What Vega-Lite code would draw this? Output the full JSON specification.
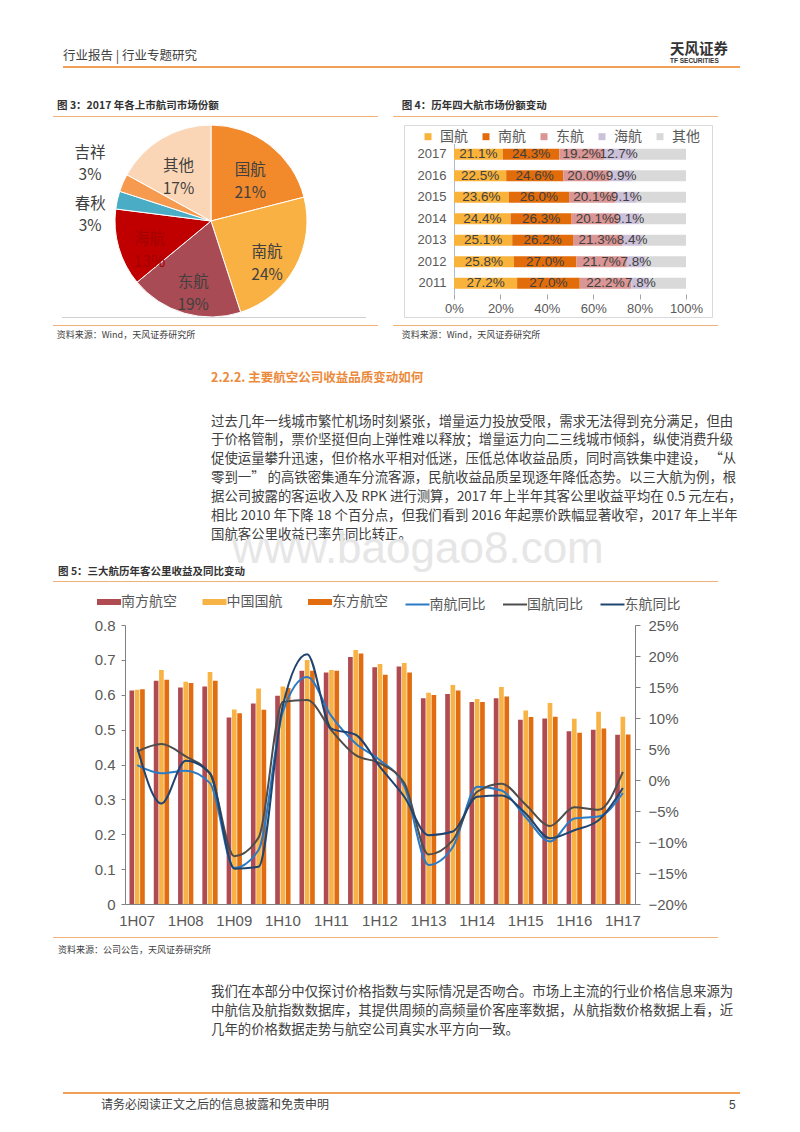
{
"$schema":"https://vega.github.io/schema/vega-lite/v6.json",
"background":"white",
"padding":0,
"autosize":{"type":"pad"},
"bounds":"flush",
"spacing":0,
"columns":3,
"align":"none",
"resolve":{"scale":{"color":"independent"},"legend":{"color":"independent"}},
"config":{"view":{"stroke":null},"font":"Noto Sans CJK SC","concat":{"spacing":0},"title":{"font":"Noto Sans CJK SC","anchor":"start","frame":"group"}},
"datasets":{
"pie":[
{"name":"国航","share":21,"ord":1,"label":"国航\n21%"},
{"name":"南航","share":24,"ord":2,"label":"南航\n24%"},
{"name":"东航","share":19,"ord":3,"label":"东航\n19%"},
{"name":"海航","share":13,"ord":4,"label":"海航\n13%"},
{"name":"春秋","share":3,"ord":5,"label":"春秋\n3%"},
{"name":"吉祥","share":3,"ord":6,"label":"吉祥\n3%"},
{"name":"其他","share":17,"ord":7,"label":"其他\n17%"}
],
"share4":[
{"year":"2017","airline":"国航","share":0.211,"ord":1},{"year":"2017","airline":"南航","share":0.243,"ord":2},{"year":"2017","airline":"东航","share":0.192,"ord":3},{"year":"2017","airline":"海航","share":0.127,"ord":4},{"year":"2017","airline":"其他","share":0.227,"ord":5},
{"year":"2016","airline":"国航","share":0.225,"ord":1},{"year":"2016","airline":"南航","share":0.246,"ord":2},{"year":"2016","airline":"东航","share":0.200,"ord":3},{"year":"2016","airline":"海航","share":0.099,"ord":4},{"year":"2016","airline":"其他","share":0.230,"ord":5},
{"year":"2015","airline":"国航","share":0.236,"ord":1},{"year":"2015","airline":"南航","share":0.260,"ord":2},{"year":"2015","airline":"东航","share":0.201,"ord":3},{"year":"2015","airline":"海航","share":0.091,"ord":4},{"year":"2015","airline":"其他","share":0.212,"ord":5},
{"year":"2014","airline":"国航","share":0.244,"ord":1},{"year":"2014","airline":"南航","share":0.263,"ord":2},{"year":"2014","airline":"东航","share":0.201,"ord":3},{"year":"2014","airline":"海航","share":0.091,"ord":4},{"year":"2014","airline":"其他","share":0.201,"ord":5},
{"year":"2013","airline":"国航","share":0.251,"ord":1},{"year":"2013","airline":"南航","share":0.262,"ord":2},{"year":"2013","airline":"东航","share":0.213,"ord":3},{"year":"2013","airline":"海航","share":0.084,"ord":4},{"year":"2013","airline":"其他","share":0.190,"ord":5},
{"year":"2012","airline":"国航","share":0.258,"ord":1},{"year":"2012","airline":"南航","share":0.270,"ord":2},{"year":"2012","airline":"东航","share":0.217,"ord":3},{"year":"2012","airline":"海航","share":0.078,"ord":4},{"year":"2012","airline":"其他","share":0.177,"ord":5},
{"year":"2011","airline":"国航","share":0.272,"ord":1},{"year":"2011","airline":"南航","share":0.270,"ord":2},{"year":"2011","airline":"东航","share":0.222,"ord":3},{"year":"2011","airline":"海航","share":0.078,"ord":4},{"year":"2011","airline":"其他","share":0.158,"ord":5}
],
"bars":[
{"period":"1H07","series":"南方航空","value":0.612},{"period":"1H07","series":"中国国航","value":0.614},{"period":"1H07","series":"东方航空","value":0.616},
{"period":"2H07","series":"南方航空","value":0.640},{"period":"2H07","series":"中国国航","value":0.671},{"period":"2H07","series":"东方航空","value":0.643},
{"period":"1H08","series":"南方航空","value":0.621},{"period":"1H08","series":"中国国航","value":0.637},{"period":"1H08","series":"东方航空","value":0.634},
{"period":"2H08","series":"南方航空","value":0.624},{"period":"2H08","series":"中国国航","value":0.665},{"period":"2H08","series":"东方航空","value":0.640},
{"period":"1H09","series":"南方航空","value":0.535},{"period":"1H09","series":"中国国航","value":0.558},{"period":"1H09","series":"东方航空","value":0.547},
{"period":"2H09","series":"南方航空","value":0.575},{"period":"2H09","series":"中国国航","value":0.618},{"period":"2H09","series":"东方航空","value":0.557},
{"period":"1H10","series":"南方航空","value":0.597},{"period":"1H10","series":"中国国航","value":0.624},{"period":"1H10","series":"东方航空","value":0.619},
{"period":"2H10","series":"南方航空","value":0.669},{"period":"2H10","series":"中国国航","value":0.700},{"period":"2H10","series":"东方航空","value":0.669},
{"period":"1H11","series":"南方航空","value":0.664},{"period":"1H11","series":"中国国航","value":0.671},{"period":"1H11","series":"东方航空","value":0.669},
{"period":"2H11","series":"南方航空","value":0.708},{"period":"2H11","series":"中国国航","value":0.728},{"period":"2H11","series":"东方航空","value":0.718},
{"period":"1H12","series":"南方航空","value":0.679},{"period":"1H12","series":"中国国航","value":0.688},{"period":"1H12","series":"东方航空","value":0.657},
{"period":"2H12","series":"南方航空","value":0.681},{"period":"2H12","series":"中国国航","value":0.691},{"period":"2H12","series":"东方航空","value":0.664},
{"period":"1H13","series":"南方航空","value":0.590},{"period":"1H13","series":"中国国航","value":0.606},{"period":"1H13","series":"东方航空","value":0.599},
{"period":"2H13","series":"南方航空","value":0.602},{"period":"2H13","series":"中国国航","value":0.628},{"period":"2H13","series":"东方航空","value":0.612},
{"period":"1H14","series":"南方航空","value":0.579},{"period":"1H14","series":"中国国航","value":0.588},{"period":"1H14","series":"东方航空","value":0.579},
{"period":"2H14","series":"南方航空","value":0.590},{"period":"2H14","series":"中国国航","value":0.622},{"period":"2H14","series":"东方航空","value":0.595},
{"period":"1H15","series":"南方航空","value":0.528},{"period":"1H15","series":"中国国航","value":0.555},{"period":"1H15","series":"东方航空","value":0.536},
{"period":"2H15","series":"南方航空","value":0.532},{"period":"2H15","series":"中国国航","value":0.576},{"period":"2H15","series":"东方航空","value":0.537},
{"period":"1H16","series":"南方航空","value":0.495},{"period":"1H16","series":"中国国航","value":0.531},{"period":"1H16","series":"东方航空","value":0.491},
{"period":"2H16","series":"南方航空","value":0.500},{"period":"2H16","series":"中国国航","value":0.551},{"period":"2H16","series":"东方航空","value":0.503},
{"period":"1H17","series":"南方航空","value":0.485},{"period":"1H17","series":"中国国航","value":0.537},{"period":"1H17","series":"东方航空","value":0.486}
],
"lines":[
{"period":"1H07","series":"南航同比","yoy":0.024},{"period":"2H07","series":"南航同比","yoy":0.011},{"period":"1H08","series":"南航同比","yoy":0.015},{"period":"2H08","series":"南航同比","yoy":-0.005},{"period":"1H09","series":"南航同比","yoy":-0.142},{"period":"2H09","series":"南航同比","yoy":-0.113},{"period":"1H10","series":"南航同比","yoy":0.110},{"period":"2H10","series":"南航同比","yoy":0.166},{"period":"1H11","series":"南航同比","yoy":0.103},{"period":"2H11","series":"南航同比","yoy":0.059},{"period":"1H12","series":"南航同比","yoy":0.032},{"period":"2H12","series":"南航同比","yoy":-0.010},{"period":"1H13","series":"南航同比","yoy":-0.137},{"period":"2H13","series":"南航同比","yoy":-0.108},{"period":"1H14","series":"南航同比","yoy":-0.011},{"period":"2H14","series":"南航同比","yoy":-0.017},{"period":"1H15","series":"南航同比","yoy":-0.060},{"period":"2H15","series":"南航同比","yoy":-0.099},{"period":"1H16","series":"南航同比","yoy":-0.062},{"period":"2H16","series":"南航同比","yoy":-0.059},{"period":"1H17","series":"南航同比","yoy":-0.021},
{"period":"1H07","series":"国航同比","yoy":0.046},{"period":"2H07","series":"国航同比","yoy":0.058},{"period":"1H08","series":"国航同比","yoy":0.038},{"period":"2H08","series":"国航同比","yoy":0.010},{"period":"1H09","series":"国航同比","yoy":-0.123},{"period":"2H09","series":"国航同比","yoy":-0.093},{"period":"1H10","series":"国航同比","yoy":0.126},{"period":"2H10","series":"国航同比","yoy":0.129},{"period":"1H11","series":"国航同比","yoy":0.080},{"period":"2H11","series":"国航同比","yoy":0.040},{"period":"1H12","series":"国航同比","yoy":0.027},{"period":"2H12","series":"国航同比","yoy":-0.005},{"period":"1H13","series":"国航同比","yoy":-0.120},{"period":"2H13","series":"国航同比","yoy":-0.097},{"period":"1H14","series":"国航同比","yoy":-0.019},{"period":"2H14","series":"国航同比","yoy":-0.006},{"period":"1H15","series":"国航同比","yoy":-0.040},{"period":"2H15","series":"国航同比","yoy":-0.074},{"period":"1H16","series":"国航同比","yoy":-0.044},{"period":"2H16","series":"国航同比","yoy":-0.048},{"period":"1H17","series":"国航同比","yoy":0.013},
{"period":"1H07","series":"东航同比","yoy":0.053},{"period":"2H07","series":"东航同比","yoy":-0.038},{"period":"1H08","series":"东航同比","yoy":0.031},{"period":"2H08","series":"东航同比","yoy":0.011},{"period":"1H09","series":"东航同比","yoy":-0.143},{"period":"2H09","series":"东航同比","yoy":-0.140},{"period":"1H10","series":"东航同比","yoy":0.120},{"period":"2H10","series":"东航同比","yoy":0.203},{"period":"1H11","series":"东航同比","yoy":0.083},{"period":"2H11","series":"东航同比","yoy":0.073},{"period":"1H12","series":"东航同比","yoy":0.021},{"period":"2H12","series":"东航同比","yoy":-0.027},{"period":"1H13","series":"东航同比","yoy":-0.089},{"period":"2H13","series":"东航同比","yoy":-0.083},{"period":"1H14","series":"东航同比","yoy":-0.027},{"period":"2H14","series":"东航同比","yoy":-0.025},{"period":"1H15","series":"东航同比","yoy":-0.054},{"period":"2H15","series":"东航同比","yoy":-0.094},{"period":"1H16","series":"东航同比","yoy":-0.081},{"period":"2H16","series":"东航同比","yoy":-0.065},{"period":"1H17","series":"东航同比","yoy":-0.013}
]
},
"concat":[
{"width":115,"height":66,"data":{"values":[]},"mark":"point","title":{"text":"行业报告 | 行业专题研究","fontSize":12.5,"fontWeight":"normal","color":"#404040","dx":63,"offset":-62.4}},
{"width":1,"height":66,"data":{"values":[]},"mark":"point"},
{"width":1,"height":66,"data":{"values":[]},"mark":"point","title":{"text":"天风证券","fontSize":14.5,"fontWeight":"bold","color":"#333333","dx":266,"offset":-65.1,"subtitle":"TF SECURITIES","subtitleFont":"Liberation Sans","subtitleFontSize":6.5,"subtitleFontWeight":"bold","subtitleColor":"#333333","subtitlePadding":0}},

{"width":115,"height":2,"data":{"values":[{"seg":"header"}]},"mark":{"type":"bar","color":"#F0A057"},"encoding":{"x":{"field":"seg","type":"nominal","scale":{"range":[63,740],"paddingInner":0,"paddingOuter":0},"axis":null}}},
{"width":1,"height":2,"data":{"values":[]},"mark":"point"},
{"width":1,"height":2,"data":{"values":[]},"mark":"point"},

{"width":115,"height":48,"data":{"values":[]},"mark":"point","title":{"text":"图 3：2017 年各上市航司市场份额","fontSize":10.5,"fontWeight":"bold","color":"#333333","dx":57,"offset":-43.9}},
{"width":1,"height":48,"data":{"values":[]},"mark":"point"},
{"width":1,"height":48,"data":{"values":[]},"mark":"point","title":{"text":"图 4：历年四大航市场份额变动","fontSize":10.5,"fontWeight":"bold","color":"#333333","dx":-2.3,"offset":-43.9}},

{"width":115,"height":1,"data":{"values":[{"seg":"fig3"},{"seg":"fig4"}]},"mark":{"type":"bar","color":"#F0B27A"},"encoding":{"x":{"field":"seg","type":"nominal","scale":{"range":[53,718],"paddingInner":0.0441,"paddingOuter":0},"axis":null}}},
{"width":1,"height":1,"data":{"values":[]},"mark":"point"},
{"width":1,"height":1,"data":{"values":[]},"mark":"point"},

{"width":115,"height":8,"data":{"values":[]},"mark":"point"},
{"width":289,"height":8,"data":{"values":[]},"mark":"point"},
{"width":1,"height":8,"data":{"values":[]},"mark":"point"},

{"width":115,"height":192,"data":{"values":[]},"mark":"point"},
{"width":192,"height":192,"data":{"name":"pie"},
"layer":[
{"mark":{"type":"arc","outerRadius":96,"stroke":"#ffffff","strokeWidth":1},
"encoding":{"theta":{"field":"share","type":"quantitative","stack":true},"order":{"field":"ord","type":"quantitative"},"color":{"field":"name","type":"nominal","scale":{"domain":["国航","南航","东航","海航","春秋","吉祥","其他"],"range":["#F28A2C","#F8B142","#A94B54","#C00000","#4BACC6","#F59A4F","#FBD6B6"]},"legend":null}}},
{"mark":{"type":"text","radius":64,"fontSize":15.5,"lineHeight":23,"lineBreak":"\n","baseline":"middle","align":"center"},
"encoding":{"theta":{"field":"share","type":"quantitative","stack":true},"order":{"field":"ord","type":"quantitative"},"detail":{"field":"name"},"text":{"field":"label"},"color":{"condition":{"test":"datum.name == '海航'","value":"#A30000"},"value":"#404040"},"opacity":{"condition":{"test":"datum.name == '吉祥' || datum.name == '春秋'","value":0},"value":1}}},
{"mark":{"type":"text","radius":139,"thetaOffset":0.106,"fontSize":15.5,"lineHeight":22,"lineBreak":"\n","baseline":"middle","align":"center","color":"#404040"},
"encoding":{"theta":{"field":"share","type":"quantitative","stack":true},"order":{"field":"ord","type":"quantitative"},"detail":{"field":"name"},"text":{"field":"label"},"opacity":{"condition":{"test":"datum.name == '吉祥'","value":1},"value":0}}},
{"mark":{"type":"text","radius":122,"thetaOffset":-0.08,"fontSize":15.5,"lineHeight":22,"lineBreak":"\n","baseline":"middle","align":"center","color":"#404040"},
"encoding":{"theta":{"field":"share","type":"quantitative","stack":true},"order":{"field":"ord","type":"quantitative"},"detail":{"field":"name"},"text":{"field":"label"},"opacity":{"condition":{"test":"datum.name == '春秋'","value":1},"value":0}}}
]},
{"width":308,"height":192,"view":{"stroke":"#D9D9D9"},"data":{"name":"share4"},
"transform":[{"stack":"share","groupby":["year"],"sort":[{"field":"ord","order":"ascending"}],"as":["s0","s1"]},{"calculate":"(datum.s0+datum.s1)/2","as":"mid"}],
"encoding":{"y":{"field":"year","type":"ordinal","sort":"descending","scale":{"range":[18.5,169],"paddingInner":0.49,"paddingOuter":0.245},"axis":{"title":null,"orient":"left","offset":-50,"domain":true,"domainColor":"#A9BCD3","ticks":false,"labelFont":"Liberation Sans","labelFontSize":13,"labelColor":"#595959","labelPadding":8}}},
"layer":[
{"mark":{"type":"bar"},
"encoding":{"x":{"field":"s0","type":"quantitative","scale":{"domain":[0,1],"range":[50,282]},"axis":{"title":null,"orient":"bottom","offset":-23,"values":[0,0.2,0.4,0.6,0.8,1],"format":".0%","domain":false,"ticks":true,"tickSize":5,"tickColor":"#A6A6A6","grid":false,"labelFont":"Liberation Sans","labelFontSize":13,"labelColor":"#595959","labelPadding":3,"labelFlush":false}},"x2":{"field":"s1"},
"color":{"field":"airline","type":"nominal","scale":{"domain":["国航","南航","东航","海航","其他"],"range":["#F9B23A","#E36C0A","#D99694","#CCC1DA","#D9D9D9"]},"legend":{"orient":"none","legendX":17,"legendY":4.7,"direction":"horizontal","title":null,"symbolType":"square","symbolSize":49,"symbolStrokeWidth":0,"labelFont":"Noto Sans CJK SC","labelFontSize":14,"labelColor":"#595959","labelOffset":5,"columnPadding":11,"padding":0}}}},
{"transform":[{"filter":"datum.airline != '其他'"}],
"mark":{"type":"text","font":"Liberation Sans","fontSize":13.5,"color":"#404040","baseline":"middle","align":"center"},
"encoding":{"x":{"field":"mid","type":"quantitative"},"text":{"field":"share","type":"quantitative","format":".1%"}}}
]},

{"width":115,"height":1,"data":{"values":[{"seg":"frame"}]},"mark":{"type":"bar","color":"#D0D0D0"},"encoding":{"x":{"field":"seg","type":"nominal","scale":{"range":[62,366],"paddingInner":0,"paddingOuter":0},"axis":null}}},
{"width":1,"height":1,"data":{"values":[]},"mark":"point"},
{"width":1,"height":1,"data":{"values":[]},"mark":"point"},

{"width":115,"height":7,"data":{"values":[]},"mark":"point"},
{"width":1,"height":7,"data":{"values":[]},"mark":"point"},
{"width":1,"height":7,"data":{"values":[]},"mark":"point"},

{"width":115,"height":1,"data":{"values":[{"seg":"fig3"},{"seg":"fig4"}]},"mark":{"type":"bar","color":"#F0B27A"},"encoding":{"x":{"field":"seg","type":"nominal","scale":{"range":[53,718],"paddingInner":0.0441,"paddingOuter":0},"axis":null}}},
{"width":1,"height":1,"data":{"values":[]},"mark":"point"},
{"width":1,"height":1,"data":{"values":[]},"mark":"point"},

{"width":115,"height":20,"data":{"values":[]},"mark":"point","title":{"text":"资料来源：Wind，天风证券研究所","fontSize":9,"fontWeight":"normal","color":"#404040","dx":56.7,"offset":-14.3}},
{"width":1,"height":20,"data":{"values":[]},"mark":"point"},
{"width":1,"height":20,"data":{"values":[]},"mark":"point","title":{"text":"资料来源：Wind，天风证券研究所","fontSize":9,"fontWeight":"normal","color":"#404040","dx":-2.3,"offset":-14.3}},

{"width":115,"height":214,"data":{"values":[]},"mark":"point","title":{"text":"2.2.2. 主要航空公司收益品质变动如何","fontSize":12.5,"fontWeight":"bold","color":"#EC8A3C","dx":211,"offset":-195.3,
"subtitle":["过去几年一线城市繁忙机场时刻紧张，增量运力投放受限，需求无法得到充分满足，但由","于价格管制，票价坚挺但向上弹性难以释放；增量运力向二三线城市倾斜，纵使消费升级","促使运量攀升迅速，但价格水平相对低迷，压低总体收益品质，同时高铁集中建设， “从","零到一” 的高铁密集通车分流客源，民航收益品质呈现逐年降低态势。以三大航为例，根","据公司披露的客运收入及 RPK 进行测算，2017 年上半年其客公里收益平均在 0.5 元左右，","相比 2010 年下降 18 个百分点，但我们看到 2016 年起票价跌幅显著收窄，2017 年上半年","国航客公里收益已率先同比转正。"],
"subtitleFont":"Noto Sans CJK SC","subtitleFontSize":13.4,"subtitleLineHeight":18.9,"subtitleColor":"#404040","subtitlePadding":30.4}},
{"width":1,"height":214,"data":{"values":[]},"mark":"point"},
{"width":1,"height":214,"data":{"values":[]},"mark":"point"},

{"width":115,"height":21,"data":{"values":[]},"mark":"point","title":{"text":"图 5：三大航历年客公里收益及同比变动","fontSize":10.5,"fontWeight":"bold","color":"#333333","dx":58,"offset":-17.9}},
{"width":1,"height":21,"data":{"values":[]},"mark":"point"},
{"width":1,"height":21,"data":{"values":[]},"mark":"point"},

{"width":115,"height":1,"data":{"values":[{"seg":"fig5"}]},"mark":{"type":"bar","color":"#F0B27A"},"encoding":{"x":{"field":"seg","type":"nominal","scale":{"range":[53,718],"paddingInner":0,"paddingOuter":0},"axis":null}}},
{"width":1,"height":1,"data":{"values":[]},"mark":"point"},
{"width":1,"height":1,"data":{"values":[]},"mark":"point"},

{"width":115,"height":43,"data":{"values":[]},"mark":"point","title":{"text":"www.baogao8.com","font":"Liberation Sans","fontSize":44,"fontWeight":"normal","color":"#E6E6E6","dx":232,"offset":9.6}},
{"width":1,"height":43,"data":{"values":[]},"mark":"point"},
{"width":1,"height":43,"data":{"values":[]},"mark":"point"},

{"width":115,"height":279,
"encoding":{
"x":{"field":"period","type":"nominal","scale":{"domain":["1H07","2H07","1H08","2H08","1H09","2H09","1H10","2H10","1H11","2H11","1H12","2H12","1H13","2H13","1H14","2H14","1H15","2H15","1H16","2H16","1H17"],"range":[125,635],"paddingInner":0.37,"paddingOuter":0.185},"axis":{"title":null,"values":["1H07","1H08","1H09","1H10","1H11","1H12","1H13","1H14","1H15","1H16","1H17"],"labelAngle":0,"domain":true,"domainColor":"#808080","ticks":false,"tickSize":0,"labelFont":"Liberation Sans","labelFontSize":15,"labelColor":"#595959","labelPadding":9.5,"labelOverlap":false}},
"color":{"field":"series","type":"nominal","scale":{"domain":["南方航空","中国国航","东方航空","南航同比","国航同比","东航同比"],"range":["#B04B51","#F8B347","#E26D10","#2B7BC4","#4D4D4D","#1F4470"]},
"legend":{"orient":"none","legendX":102,"legendY":-30,"direction":"horizontal","title":null,"symbolType":"stroke","symbolSize":576,"symbolStrokeWidth":2,"labelFont":"Noto Sans CJK SC","labelFontSize":14,"labelColor":"#595959","labelOffset":5,"columnPadding":13.5,"padding":0,
"encode":{"symbols":{"update":{"strokeWidth":{"signal":"indexof(['南方航空','中国国航','东方航空'], datum.value) >= 0 ? 6 : 2"},"stroke":{"signal":"scale('color', datum.value)"},"shape":{"value":"stroke"},"fill":{"value":"transparent"}}}}}}
},
"layer":[
{"data":{"name":"bars"},"mark":{"type":"bar"},
"encoding":{
"xOffset":{"field":"series","type":"nominal","sort":["南方航空","中国国航","东方航空"],"scale":{"paddingInner":0.12,"paddingOuter":0}},
"y":{"field":"value","type":"quantitative","scale":{"domain":[0,0.8],"nice":false},"axis":{"title":null,"orient":"left","offset":-125,"values":[0,0.1,0.2,0.3,0.4,0.5,0.6,0.7,0.8],"labelExpr":"datum.value == 0 ? '0' : format(datum.value, '.1f')","grid":false,"domain":true,"domainColor":"#808080","ticks":true,"tickSize":4,"tickColor":"#808080","labelFont":"Liberation Sans","labelFontSize":15,"labelColor":"#595959","labelPadding":6,"labelFlush":false,"labelOverlap":false}}}},
{"data":{"name":"lines"},"mark":{"type":"line","interpolate":"monotone","strokeWidth":2},
"encoding":{
"y":{"field":"yoy","type":"quantitative","scale":{"domain":[-0.2,0.25],"nice":false,"zero":false},"axis":{"title":null,"orient":"right","offset":520,"values":[-0.2,-0.15,-0.1,-0.05,0,0.05,0.1,0.15,0.2,0.25],"format":".0%","grid":false,"domain":true,"domainColor":"#808080","ticks":true,"tickSize":5,"tickColor":"#808080","labelFont":"Liberation Sans","labelFontSize":15,"labelColor":"#595959","labelPadding":8,"labelFlush":false,"labelOverlap":false}}}}
],
"resolve":{"scale":{"y":"independent"}}},
{"width":1,"height":279,"data":{"values":[]},"mark":"point"},
{"width":1,"height":279,"data":{"values":[]},"mark":"point"},

{"width":115,"height":33,"data":{"values":[]},"mark":"point"},
{"width":1,"height":33,"data":{"values":[]},"mark":"point"},
{"width":1,"height":33,"data":{"values":[]},"mark":"point"},

{"width":115,"height":1,"data":{"values":[{"seg":"src"}]},"mark":{"type":"bar","color":"#F0B27A"},"encoding":{"x":{"field":"seg","type":"nominal","scale":{"range":[53,718],"paddingInner":0,"paddingOuter":0},"axis":null}}},
{"width":1,"height":1,"data":{"values":[]},"mark":"point"},
{"width":1,"height":1,"data":{"values":[]},"mark":"point"},

{"width":115,"height":17,"data":{"values":[]},"mark":"point","title":{"text":"资料来源：公司公告，天风证券研究所","fontSize":9,"fontWeight":"normal","color":"#404040","dx":58,"offset":-17.3}},
{"width":1,"height":17,"data":{"values":[]},"mark":"point"},
{"width":1,"height":17,"data":{"values":[]},"mark":"point"},

{"width":115,"height":85,"data":{"values":[]},"mark":"point","title":{"text":["我们在本部分中仅探讨价格指数与实际情况是否吻合。市场上主流的行业价格信息来源为","中航信及航指数数据库，其提供周频的高频量价客座率数据，从航指数价格数据上看，近","几年的价格数据走势与航空公司真实水平方向一致。"],"fontSize":13.4,"lineHeight":19,"fontWeight":"normal","color":"#404040","dx":211,"offset":-80.9}},
{"width":1,"height":85,"data":{"values":[]},"mark":"point"},
{"width":1,"height":85,"data":{"values":[]},"mark":"point"},

{"width":115,"height":52,"data":{"values":[]},"mark":"point"},
{"width":1,"height":52,"data":{"values":[]},"mark":"point"},
{"width":1,"height":52,"data":{"values":[]},"mark":"point"},

{"width":115,"height":2,"data":{"values":[{"seg":"footer"}]},"mark":{"type":"bar","color":"#F0A057"},"encoding":{"x":{"field":"seg","type":"nominal","scale":{"range":[63,740],"paddingInner":0,"paddingOuter":0},"axis":null}}},
{"width":1,"height":2,"data":{"values":[]},"mark":"point"},
{"width":1,"height":2,"data":{"values":[]},"mark":"point"},

{"width":115,"height":38,"data":{"values":[]},"mark":"point","title":{"text":"请务必阅读正文之后的信息披露和免责申明","fontSize":12,"fontWeight":"normal","color":"#404040","dx":101,"offset":-18.1}},
{"width":1,"height":38,"data":{"values":[]},"mark":"point"},
{"width":1,"height":38,"data":{"values":[]},"mark":"point","title":{"text":"5","font":"Liberation Sans","fontSize":12,"fontWeight":"normal","color":"#404040","dx":325,"offset":-18.3}}
]
}
